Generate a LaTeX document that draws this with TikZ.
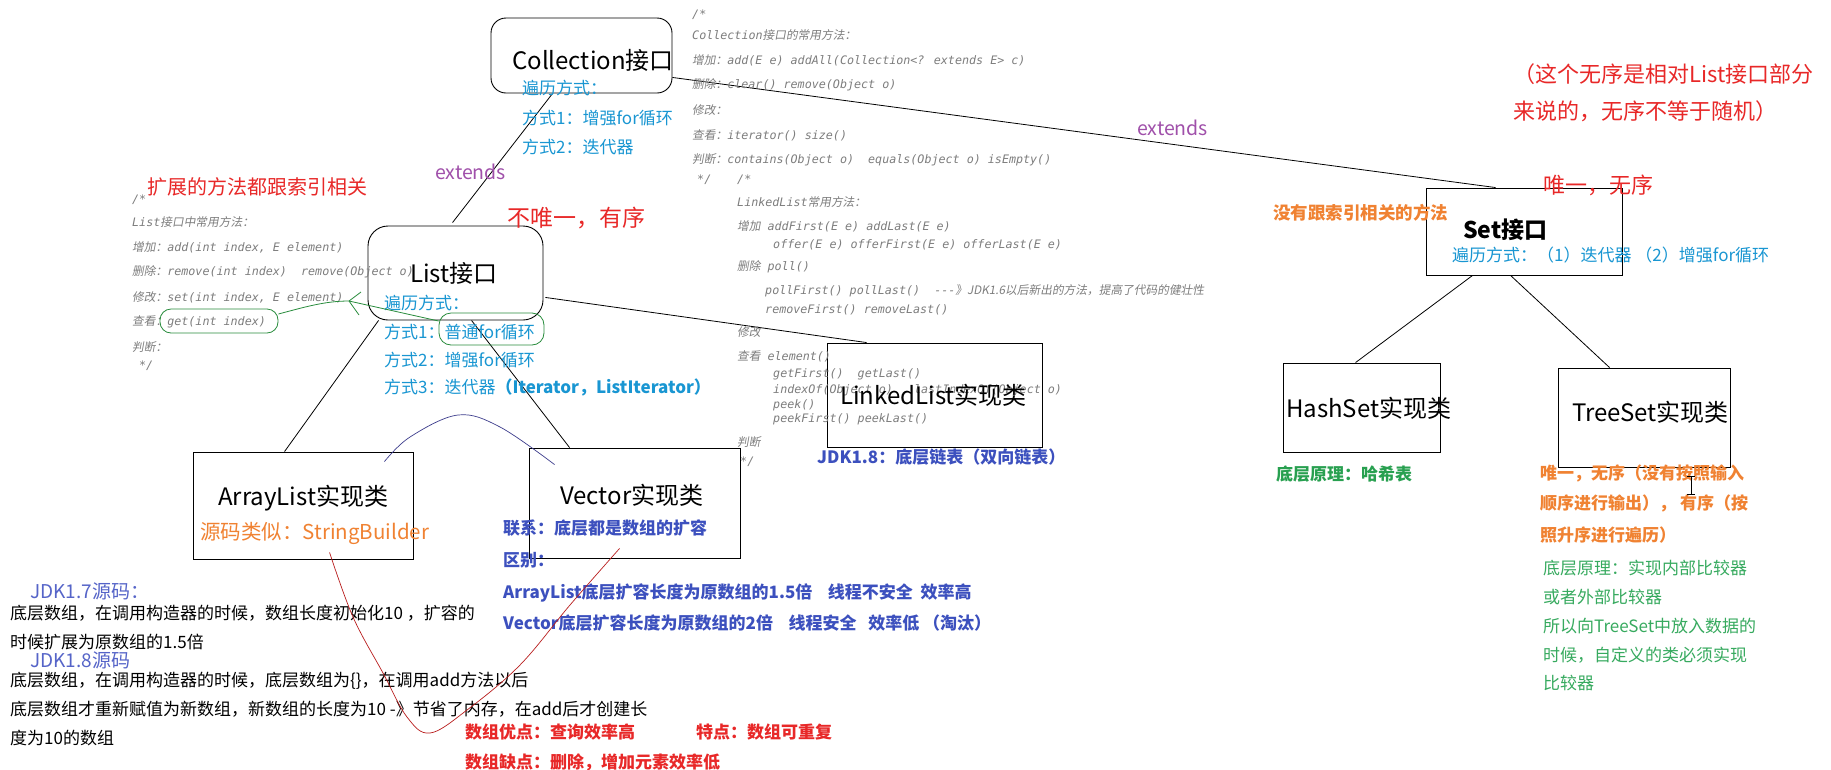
\documentclass[tikz,border=0pt]{standalone}
\usepackage{fontspec}
\setmainfont{Noto Sans CJK SC}
\newfontfamily\monof{DejaVu Sans Mono}
\newfontfamily\cjkit{Noto Sans CJK SC}[FakeSlant=0.18]
\newcommand\Cj[1]{{\cjkit #1}}
\newcommand\fs[1]{\fontsize{#1}{#1}\selectfont}
\usetikzlibrary{calc}
\definecolor{cblue}{RGB}{25,150,210}
\definecolor{cindigo}{RGB}{60,80,190}
\definecolor{cjdk}{RGB}{85,100,200}
\definecolor{corange}{RGB}{240,130,50}
\definecolor{cred}{RGB}{232,40,40}
\definecolor{cgreen}{RGB}{40,160,80}
\definecolor{cgreenl}{RGB}{55,170,95}
\definecolor{cpurple}{RGB}{160,80,170}
\definecolor{cgray}{RGB}{125,125,125}
\definecolor{cgline}{RGB}{40,140,60}
\definecolor{cdarkred}{RGB}{185,30,30}
\definecolor{carc}{RGB}{60,60,140}
\tikzset{
  txt/.style={inner sep=0pt, anchor=west},
  title/.style={txt, font={\fs{24}}},
  trav/.style={txt, font={\fs{17}}, text=cblue},
  code/.style={txt, font={\monof\itshape\fontsize{11.7}{12}\selectfont}, text=cgray},
  frame/.style={draw=black, line width=0.9pt, inner sep=0pt},
  conn/.style={draw=black, line width=0.8pt},
  gline/.style={draw=cgline, line width=0.8pt},
  bindigo/.style={txt, font={\fs{17}\bfseries}, text=cindigo},
  plain/.style={txt, font={\fs{17}}, text=black},
  redbig/.style={txt, font={\fs{22}}, text=cred},
  ext/.style={txt, font={\fs{19.5}}, text=cpurple},
}
\begin{document}
\begin{tikzpicture}[x=1pt,y=-1pt]
\useasboundingbox (0,0) rectangle (1831,769);
\fill[white] (0,0) rectangle (1831,769);

% ---------- boxes ----------
\node[frame, rounded corners=15pt, minimum width=181pt, minimum height=75pt] (coll) at (581.5,55.5) {};
\node[frame, rounded corners=20pt, minimum width=175pt, minimum height=94pt] (list) at (455.5,273) {};
\node[frame, minimum width=220pt, minimum height=107pt] (alist) at (303,505.5) {};
\node[frame, minimum width=211pt, minimum height=110pt] (vec) at (634.5,503) {};
\node[frame, minimum width=215pt, minimum height=104pt] (llist) at (934.5,395) {};
\node[frame, minimum width=196pt, minimum height=87pt] (set) at (1524,231.5) {};
\node[frame, minimum width=157pt, minimum height=89pt] (hset) at (1361.5,407.5) {};
\node[frame, minimum width=172pt, minimum height=99pt] (tset) at (1644,417.5) {};

% ---------- connectors ----------
\draw[conn] ($(coll.south west)+(62,0)$) -- ($(list.north west)+(85,-3)$);
\draw[conn] ($(coll.south east)+(0,-16)$) -- ($(set.north west)+(70,0)$);
\draw[conn] ($(list.south east)+(2,-23)$) -- ($(llist.north west)+(40,0)$);
\draw[conn] ($(list.south west)+(11,0)$) -- ($(alist.north west)+(92,0)$);
\draw[conn] ($(list.south west)+(104,0)$) -- ($(vec.north west)+(41,0)$);
\draw[conn] ($(set.south west)+(47,0)$) -- ($(hset.north west)+(73,0)$);
\draw[conn] ($(set.south west)+(85,0)$) -- ($(tset.north west)+(52,0)$);

% ---------- code comments ----------
\node[code] (lc0) at (132,200) {/*};
\node[code] (lc1) at (132,222) {List\Cj{接口中常用方法：}};
\node[code] (lc2) at (132,247) {\Cj{增加：}add(int index, E element)};
\node[code] (lc3) at (132,272) {\Cj{删除：}remove(int index)\ \ remove(Object o)};
\node[code] (lc4) at (132,297) {\Cj{修改：}set(int index, E element)};
\node[code] (lc5) at (132,322) {\Cj{查看：}get(int index)};
\node[code] (lc6) at (132,347) {\Cj{判断：}};
\node[code] (lc7) at (139,366) {*/};

\node[code] (cc0) at (692,15) {/*};
\node[code] (cc1) at (692,35) {Collection\Cj{接口的常用方法：}};
\node[code] (cc2) at (692,60) {\Cj{增加：}add(E e) addAll(Collection<? extends E> c)};
\node[code] (cc3) at (692,85) {\Cj{删除：}clear() remove(Object o)};
\node[code] (cc4) at (692,110) {\Cj{修改：}};
\node[code] (cc5) at (692,135) {\Cj{查看：}iterator() size()};
\node[code] (cc6) at (692,160) {\Cj{判断：}contains(Object o)\ \ equals(Object o) isEmpty()};
\node[code] (cc7) at (697,180) {*/};

\node[code] (kc0) at (737,180) {/*};
\node[code] (kc1) at (737,202) {LinkedList\Cj{常用方法：}};
\node[code] (kc2) at (737,226) {\Cj{增加} addFirst(E e) addLast(E e)};
\node[code] (kc3) at (773,245) {offer(E e) offerFirst(E e) offerLast(E e)};
\node[code] (kc4) at (737,267) {\Cj{删除} poll()};
\node[code] (kc5) at (765,291) {pollFirst() pollLast()\ \ -{}-{}-\Cj{》JDK1.6以后新出的方法，提高了代码的健壮性}};
\node[code] (kc6) at (765,310) {removeFirst() removeLast()};
\node[code] (kc7) at (737,332) {\Cj{修改}};
\node[code] (kc8) at (737,356) {\Cj{查看} element()};
\node[code] (kc9) at (773,374) {getFirst()\ \ getLast()};
\node[code] (kc10) at (773,390) {indexOf(Object o)\ \ \ lastIndexOf(Object o)};
\node[code] (kc11) at (773,405) {peek()};
\node[code] (kc12) at (773,419) {peekFirst() peekLast()};
\node[code] (kc13) at (737,442) {\Cj{判断}};
\node[code] (kc14) at (740,462) {*/};

% ---------- titles ----------
\node[title] (tcoll) at (512,60) {Collection接口};
\node[title] (tlist) at (410,273) {List接口};
\node[title] (talist) at (218,498) {ArrayList实现类};
\node[title] (tvec) at (560,495) {Vector实现类};
\node[title] (tllist) at (840,395) {LinkedList实现类};
\node[txt, font={\fs{23}\bfseries}] (tset) at (1463,230) {Set接口};
\node[title] (thset) at (1286,408) {HashSet实现类};
\node[title] (ttset) at (1572,412) {TreeSet实现类};

% ---------- traversal texts ----------
\node[trav] (ct0) at (522,88) {遍历方式：};
\node[trav] (ct1) at (522,118) {方式1：增强for循环};
\node[trav] (ct2) at (522,147) {方式2：迭代器};
\node[trav] (lt0) at (384,303) {遍历方式：};
\node[trav] (lt1) at (384,332) {方式1：普通for循环};
\node[trav] (lt2) at (384,360) {方式2：增强for循环};
\node[trav] (lt3) at (384,387) {方式3：迭代器\textbf{（Iterator，ListIterator）}};
\node[trav] (st0) at (1452,255) {遍历方式：（1）迭代器 （2）增强for循环};

% ---------- labels ----------
\node[ext] (ext1) at (435,172) {extends};
\node[ext] (ext2) at (1137,128) {extends};
\node[txt, font={\fs{23}}, text=cred] (nuq) at (507,218) {不唯一，有序};
\node[txt, font={\fs{20}}, text=cred] (kz) at (147,187) {扩展的方法都跟索引相关};
\node[txt, font={\fs{20.5}}, text=corange] (sb) at (200,533) {源码类似：StringBuilder};

\node[bindigo] (jdk18) at (817,457) {JDK1.8：底层链表（双向链表）};
\node[bindigo] (lx) at (503,528) {联系：底层都是数组的扩容};
\node[bindigo] (qb) at (503,560) {区别：};
\node[bindigo] (qb1) at (503,593) {ArrayList底层扩容长度为原数组的1.5倍\ \ \ \ 线程不安全\ \ 效率高};
\node[bindigo] (qb2) at (503,623) {Vector底层扩容长度为原数组的2倍\ \ \ \ 线程安全\ \ \ 效率低 （淘汰）};

\node[txt, font={\fs{19}}, text=cjdk] (j17) at (30,591) {JDK1.7源码：};
\node[plain] (p1) at (10,613) {底层数组，在调用构造器的时候，数组长度初始化10 ，扩容的};
\node[plain] (p2) at (10,642) {时候扩展为原数组的1.5倍};
\node[txt, font={\fs{19}}, text=cjdk] (j18) at (30,660) {JDK1.8源码};
\node[plain] (p3) at (10,681) {底层数组，在调用构造器的时候，底层数组为\{\}，在调用add方法以后};
\node[plain] (p4) at (10,709) {底层数组才重新赋值为新数组，新数组的长度为10 -》节省了内存，在add后才创建长};
\node[plain] (p5) at (10,738) {度为10的数组};

\node[txt, font={\fs{17}\bfseries}, text=cred] (yd) at (465,732) {数组优点：查询效率高};
\node[txt, font={\fs{17}\bfseries}, text=cred] (td) at (696,732) {特点：数组可重复};
\node[txt, font={\fs{17}\bfseries}, text=cred] (qd) at (465,762) {数组缺点：删除，增加元素效率低};

\node[redbig] (r1) at (1513,74) {（这个无序是相对List接口部分};
\node[redbig] (r2) at (1513,111) {来说的，无序不等于随机）};
\node[redbig] (r3) at (1543,185) {唯一，无序};
\node[txt, font={\fs{17.5}\bfseries}, text=corange] (nosy) at (1273,213) {没有跟索引相关的方法};

\node[txt, font={\fs{17}\bfseries}, text=cgreen] (hx) at (1276,474) {底层原理：哈希表};
\node[txt, font={\fs{17}\bfseries}, text=corange] (o1) at (1540,473) {唯一，无序（没有按照输入};
\node[txt, font={\fs{17}\bfseries}, text=corange] (o2) at (1540,503) {顺序进行输出）， 有序（按};
\node[txt, font={\fs{17}\bfseries}, text=corange] (o3) at (1540,535) {照升序进行遍历）};
\node[txt, font={\fs{17}}, text=cgreenl] (g1) at (1543,568) {底层原理：实现内部比较器};
\node[txt, font={\fs{17}}, text=cgreenl] (g2) at (1543,597) {或者外部比较器};
\node[txt, font={\fs{17}}, text=cgreenl] (g3) at (1543,626) {所以向TreeSet中放入数据的};
\node[txt, font={\fs{17}}, text=cgreenl] (g4) at (1543,655) {时候，自定义的类必须实现};
\node[txt, font={\fs{17}}, text=cgreenl] (g5) at (1543,683) {比较器};

% text cursor
\draw[line width=0.8pt] (1691,476) -- (1691,494) (1687,476) -- (1695,476) (1687,494) -- (1695,494);

% ---------- green annotations ----------
\node[draw=cgline, line width=0.8pt, rounded corners=12pt, minimum width=105pt, minimum height=32pt, inner sep=0pt] (pforell) at (491.5,329) {};
\node[draw=cgline, line width=0.8pt, rounded corners=11pt, minimum width=118pt, minimum height=24pt, inner sep=0pt] (getell) at (219,321) {};
\coordinate (tipc) at (349,301);
\draw[gline] ($(getell.east)+(0,-7)$) .. controls (305,307) and (325,301) .. (tipc) -- ($(pforell.west)+(0,-8)$);
\draw[gline] (tipc) -- ++(12,-9);
\draw[gline] (tipc) -- ++(10,14);

% ---------- free-hand arcs ----------
\coordinate (pa0) at ($(alist.north east)+(-29,10)$);
\coordinate (pa1) at ($(vec.north west)+(26,17)$);
\draw[carc, line width=0.7pt] plot[smooth, tension=0.6] coordinates {(pa0) (410,437) (458,415) (500,427) (pa1)};
\coordinate (rc0) at ($(alist.south west)+(137,-7)$);
\coordinate (rc1) at ($(vec.south west)+(91,-10)$);
\draw[cdarkred, line width=0.7pt] plot[smooth, tension=0.6] coordinates {(rc0) (353,617) (383,673) (407,717) (430,733) (467,710) (520,665) (570,605) (rc1)};
\end{tikzpicture}
\end{document}
